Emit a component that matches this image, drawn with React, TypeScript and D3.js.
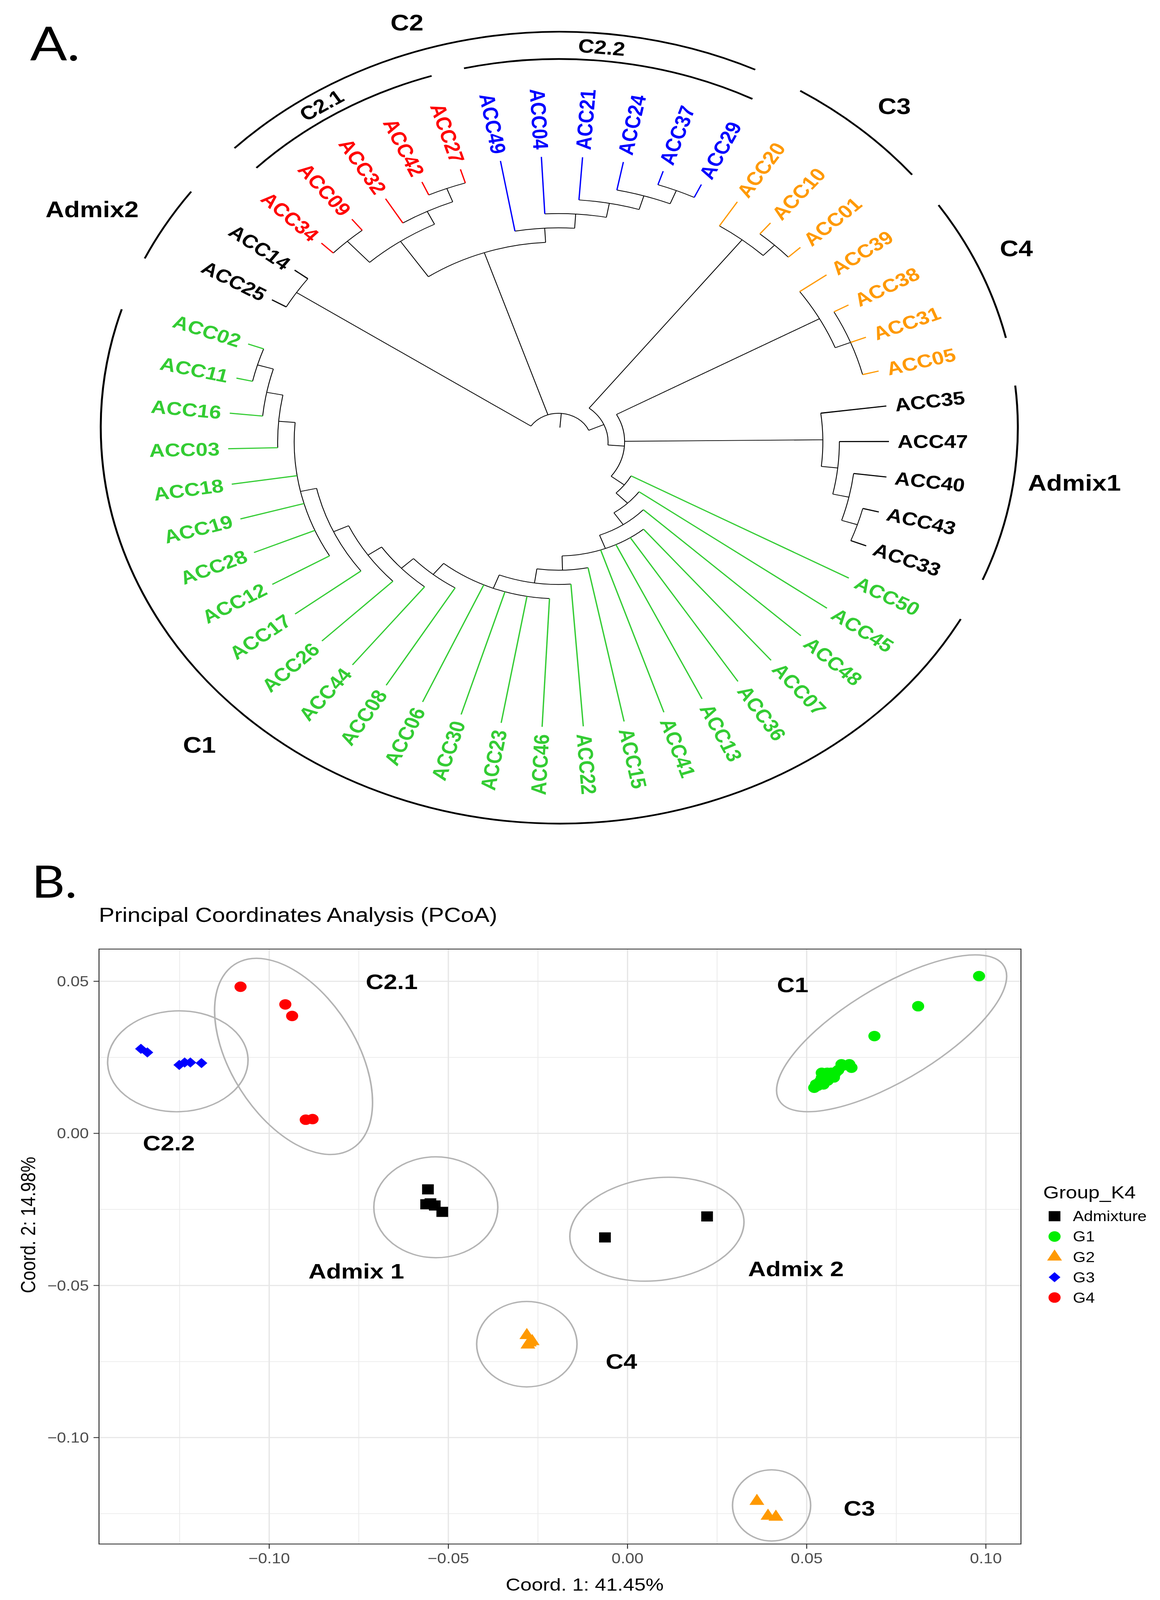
import React from "react";
import * as d3 from "d3";

const W = 2970;
const H = 4744;

// ===================== Panel A data: dendrogram =====================
// Nested clades, leaves listed clockwise
const admix2Clade = ["ACC25", "ACC14"];
const c21Clade = [["ACC34", "ACC09"], ["ACC32", ["ACC42", "ACC27"]]];
const c22Clade = ["ACC49", ["ACC04", ["ACC21", ["ACC24", ["ACC37", "ACC29"]]]]];
const c3Clade = ["ACC20", ["ACC10", "ACC01"]];
const c4Clade = ["ACC39", ["ACC38", "ACC31", "ACC05"]];
const admix1Clade = ["ACC35", ["ACC47", ["ACC40", ["ACC43", "ACC33"]]]];
const c1Clade = ["ACC50", ["ACC45", ["ACC48", ["ACC07", "ACC36", "ACC13", "ACC41", ["ACC15", ["ACC22", ["ACC46", "ACC23", "ACC30", "ACC06", ["ACC08", ["ACC44", ["ACC26", ["ACC17", ["ACC12", "ACC28", "ACC19", "ACC18", ["ACC03", ["ACC16", ["ACC11", "ACC02"]]]]]]]]]]]]]]];
const treeData = [admix2Clade, [c21Clade, c22Clade], [c3Clade, [c4Clade, admix1Clade, c1Clade]]];

const admixtureLeaves = ["ACC25", "ACC14", "ACC35", "ACC47", "ACC40", "ACC43", "ACC33"];
const g4Leaves = ["ACC34", "ACC09", "ACC32", "ACC42", "ACC27"];
const g3Leaves = ["ACC49", "ACC04", "ACC21", "ACC24", "ACC37", "ACC29"];
const g2Leaves = ["ACC20", "ACC10", "ACC01", "ACC39", "ACC38", "ACC31", "ACC05"];

const treeColors: Record<string, string> = {
  Admixture: "#000000",
  G1: "#33cc33",
  G2: "#ff9900",
  G3: "#0000ff",
  G4: "#ff0000",
};

// clade annotation arcs (degrees clockwise from east)
const cladeArcNames = ["C2", "C2.1", "C2.2", "C3", "C4", "Admix1", "C1", "Admix2"];
const cladeArcStart = [224.9, 224.8, 257.1, 301.7, 325.8, 353.9, 28.9, 205.3];
const cladeArcEnd = [295.3, 252.6, 296.9, 320.3, 346.9, 382.6, 197.4, 216.6];
const cladeArcInner = [false, true, true, false, false, false, false, false];
const cladeLabelAngle = [252.0, 237.5, 275.5, 312.0, 335.6, 7.1, 134.4, 208.4];
const cladeLabelRadius = [1262, 1133, 1133, 1282, 1285, 1329, 1317, 1360];
const cladeLabelRotated = [false, true, true, false, false, false, false, false];

// ===================== Panel B data: PCoA =====================
const pcoaGroups = ["Admixture", "G1", "G2", "G3", "G4"];
const admixturePts: [number, number][] = [
  [-0.0557, -0.0184], [-0.0562, -0.0233], [-0.055, -0.023], [-0.0538, -0.0237], [-0.0517, -0.0258],
  [0.0222, -0.0273], [-0.0063, -0.0342],
];
const g1Pts: [number, number][] = [
  [0.0981, 0.0517], [0.0811, 0.0418], [0.0689, 0.032],
  [0.0521, 0.015], [0.0526, 0.0161], [0.0537, 0.017], [0.0542, 0.0199], [0.0547, 0.0187],
  [0.0552, 0.0178], [0.0557, 0.0199], [0.0563, 0.0187], [0.0568, 0.0199], [0.0573, 0.0191],
  [0.0578, 0.0195], [0.0583, 0.0203], [0.0588, 0.0208], [0.0597, 0.0227], [0.0601, 0.0223],
  [0.0619, 0.0227], [0.0625, 0.0216], [0.0547, 0.0161], [0.0531, 0.0157], [0.0559, 0.0174],
  [0.0576, 0.0184], [0.0542, 0.0182],
];
const g2Pts: [number, number][] = [
  [-0.0281, -0.0664], [-0.0266, -0.0684], [-0.0274, -0.0688], [-0.0278, -0.0695],
  [0.0361, -0.1209], [0.0392, -0.1258], [0.0414, -0.1261],
];
const g3Pts: [number, number][] = [
  [-0.1358, 0.0278], [-0.134, 0.0266], [-0.1251, 0.0225], [-0.1236, 0.0233], [-0.122, 0.0233], [-0.1189, 0.0231],
];
const g4Pts: [number, number][] = [
  [-0.108, 0.0482], [-0.0955, 0.0424], [-0.0936, 0.0386], [-0.0898, 0.0045], [-0.0879, 0.0047],
];
const pcoaColors: Record<string, string> = {
  Admixture: "#000000",
  G1: "#00ee00",
  G2: "#ff9900",
  G3: "#0000ff",
  G4: "#ff0000",
};

// ellipses: centre (data), semi-axes (data x-units), rotation (deg)
const ellipseNames = ["C2.2", "C2.1", "Admix 1", "Admix 2", "C4", "C3", "C1"];
const ellipseCx = [-0.1255, -0.0932, -0.0535, 0.0082, -0.0281, 0.0402, 0.0737];
const ellipseCy = [0.0237, 0.0253, -0.0243, -0.0315, -0.0693, -0.1223, 0.0329];
const ellipseRx = [0.0196, 0.0181, 0.0173, 0.0245, 0.014, 0.0109, 0.0382];
const ellipseRy = [0.0163, 0.0341, 0.0163, 0.0165, 0.0138, 0.0115, 0.0146];
const ellipseRot = [-3, -25.8, 0, -10, 0, 0, -35.9];

const clusterLabels = ["C2.1", "C2.2", "C1", "Admix 1", "Admix 2", "C4", "C3"];
const clusterLabelX = [-0.0658, -0.128, 0.0461, -0.0757, 0.047, -0.0017, 0.0647];
const clusterLabelY = [0.0499, -0.0031, 0.0489, -0.0453, -0.0445, -0.075, -0.1232];

const SANS = "'Liberation Sans', Arial, Helvetica, sans-serif";

function leafGroup(name: string) {
  if (admixtureLeaves.includes(name)) return "Admixture";
  if (g4Leaves.includes(name)) return "G4";
  if (g3Leaves.includes(name)) return "G3";
  if (g2Leaves.includes(name)) return "G2";
  return "G1";
}

function PanelA() {
  const CX = 1430;
  const CY = 1310;
  const tipRadius = 846;
  const labelGap = 22;
  const leafStartAngle = 209.85;
  const leafAngleSpan = 350.2;
  const annCX = CX + 2;
  const annCY = CY - 42;
  const outerR = 1174;
  const innerR = 1093;

  const root = d3.hierarchy<any>(treeData, (d: any) => (Array.isArray(d) ? d : null));
  const leaves = root.leaves();
  const angleScale = d3.scaleLinear().domain([0, leaves.length - 1]).range([leafStartAngle, leafStartAngle + leafAngleSpan]);
  const ang = new Map<any, number>();
  leaves.forEach((l, i) => ang.set(l, angleScale(i)));
  root.eachAfter((n) => {
    if (n.children) {
      ang.set(n, (ang.get(n.children[0])! + ang.get(n.children[n.children.length - 1])!) / 2);
    }
  });
  const maxLevel = root.height + 2;
  const rad = d3.scaleLinear().domain([0, maxLevel]).range([0, tipRadius]);
  const level = (n: any) => maxLevel - n.height;
  const toRad = (a: number) => (a * Math.PI) / 180;
  const pt = (r: number, a: number, cx = CX, cy = CY) => [cx + r * Math.cos(toRad(a)), cy + r * Math.sin(toRad(a))];

  const internal: string[] = [];
  const leafEdges: { d: string; color: string }[] = [];
  root.descendants().forEach((n) => {
    const a = ang.get(n)!;
    if (n.parent) {
      const [x1, y1] = pt(rad(level(n.parent)), a);
      const [x2, y2] = pt(rad(level(n)), a);
      const d = `M${x1},${y1}L${x2},${y2}`;
      if (n.children) internal.push(d);
      else leafEdges.push({ d, color: treeColors[leafGroup(n.data)] });
    } else {
      const [x1, y1] = pt(rad(level(n) - 1), a);
      const [x2, y2] = pt(rad(level(n)), a);
      internal.push(`M${x1},${y1}L${x2},${y2}`);
    }
    if (n.children) {
      const a0 = ang.get(n.children[0])!;
      const a1 = ang.get(n.children[n.children.length - 1])!;
      const r = rad(level(n));
      const p = d3.path();
      const [sx, sy] = pt(r, a0);
      p.moveTo(sx, sy);
      p.arc(CX, CY, r, toRad(a0), toRad(a1), false);
      internal.push(p.toString());
    }
  });

  const labels = leaves.map((l) => {
    const a = ((ang.get(l)! % 360) + 360) % 360;
    const flip = a > 90 && a < 270;
    return {
      name: l.data as string,
      color: treeColors[leafGroup(l.data)],
      transform: `translate(${CX},${CY}) rotate(${a}) translate(${tipRadius + labelGap},0)${flip ? " rotate(180)" : ""}`,
      anchor: flip ? "end" : "start",
    };
  });

  const arcs = cladeArcNames.map((name, i) => {
    const r = cladeArcInner[i] ? innerR : outerR;
    const p = d3.path();
    const [sx, sy] = pt(r, cladeArcStart[i], annCX, annCY);
    p.moveTo(sx, sy);
    p.arc(annCX, annCY, r, toRad(cladeArcStart[i]), toRad(cladeArcEnd[i]), false);
    return { name, d: p.toString() };
  });

  return (
    <g>
      <text x={77} y={180} fontFamily="Lato, 'Open Sans', sans-serif" fontSize={140} fill="#000">A.</text>
      <g fill="none" stroke="#000" strokeWidth={2.2}>
        {internal.map((d, i) => (
          <path key={i} d={d} />
        ))}
      </g>
      <g fill="none" strokeWidth={3.4}>
        {leafEdges.map((e, i) => (
          <path key={i} d={e.d} stroke={e.color} />
        ))}
      </g>
      <g fontFamily={SANS} fontWeight="bold" fontSize={55}>
        {labels.map((l) => (
          <text key={l.name} transform={l.transform} textAnchor={l.anchor} dominantBaseline="central" fill={l.color}>
            {l.name}
          </text>
        ))}
      </g>
      <g fill="none" stroke="#000" strokeWidth={5}>
        {arcs.map((a) => (
          <path key={a.name} d={a.d} />
        ))}
      </g>
      <g fontFamily={SANS} fontWeight="bold" fill="#000">
        {cladeArcNames.map((name, i) => {
          const [x, y] = pt(cladeLabelRadius[i], cladeLabelAngle[i], annCX, annCY);
          const rot = cladeLabelRotated[i] ? cladeLabelAngle[i] + 90 : 0;
          return (
            <text
              key={name}
              transform={`translate(${x},${y}) rotate(${rot})`}
              textAnchor="middle"
              dominantBaseline="central"
              fontSize={cladeLabelRotated[i] ? 57 : 66}
            >
              {name}
            </text>
          );
        })}
      </g>
    </g>
  );
}

function symbolPath(group: string) {
  if (group === "Admixture") return "M-15,-15h30v30h-30Z";
  if (group === "G2") return "M0,-22L19,11L-19,11Z";
  if (group === "G3") return "M0,-15L15,0L0,15L-15,0Z";
  return d3.symbol().type(d3.symbolCircle).size(Math.PI * 15.5 * 15.5)()!;
}

function PanelB() {
  const left = 253.5;
  const right = 2614;
  const top = 2814;
  const bottom = 4578;
  const groupPts: Record<string, [number, number][]> = {
    Admixture: admixturePts,
    G1: g1Pts,
    G2: g2Pts,
    G3: g3Pts,
    G4: g4Pts,
  };
  const all = pcoaGroups.flatMap((g) => groupPts[g]);
  const [x0, x1] = d3.extent(all, (d) => d[0]) as [number, number];
  const [y0, y1] = d3.extent(all, (d) => d[1]) as [number, number];
  const ex = (x1 - x0) * 0.05;
  const ey = (y1 - y0) * 0.05;
  const x = d3.scaleLinear().domain([x0 - ex, x1 + ex]).range([left, right]);
  const y = d3.scaleLinear().domain([y0 - ey, y1 + ey]).range([bottom, top]);
  const kx = x(1) - x(0);

  const xMajor = x.ticks(5);
  const yMajor = y.ticks(5);
  const minorOf = (maj: number[], sc: any) => {
    const step = maj[1] - maj[0];
    const [a, b] = sc.domain();
    const out: number[] = [];
    for (let v = maj[0] - step / 2; v <= b + 1e-9; v += step) if (v >= a) out.push(v);
    return out;
  };
  const xMinor = minorOf(xMajor, x);
  const yMinor = minorOf(yMajor, y);
  const fmt = (v: number) => d3.format(".2f")(v).replace("-", "\u2212");

  const legendTop = 3606;
  const legendStep = 60.3;

  return (
    <g fontFamily={SANS}>
      <text x={81} y={2661} fontFamily="Lato, 'Open Sans', sans-serif" fontSize={132} fill="#000">B.</text>
      <text x={253} y={2733} fontSize={60} fill="#000">Principal Coordinates Analysis (PCoA)</text>
      <rect x={left} y={top} width={right - left} height={bottom - top} fill="#fff" />
      <g stroke="#ebebeb" strokeWidth={2}>
        {xMinor.map((v) => (
          <line key={"xm" + v} x1={x(v)} x2={x(v)} y1={top} y2={bottom} />
        ))}
        {yMinor.map((v) => (
          <line key={"ym" + v} y1={y(v)} y2={y(v)} x1={left} x2={right} />
        ))}
      </g>
      <g stroke="#e6e6e6" strokeWidth={3.2}>
        {xMajor.map((v) => (
          <line key={"xM" + v} x1={x(v)} x2={x(v)} y1={top} y2={bottom} />
        ))}
        {yMajor.map((v) => (
          <line key={"yM" + v} y1={y(v)} y2={y(v)} x1={left} x2={right} />
        ))}
      </g>
      <g fill="none" stroke="#b3b3b3" strokeWidth={4}>
        {ellipseNames.map((n, i) => (
          <ellipse
            key={n}
            cx={x(ellipseCx[i])}
            cy={y(ellipseCy[i])}
            rx={ellipseRx[i] * kx}
            ry={ellipseRy[i] * kx}
            transform={`rotate(${ellipseRot[i]} ${x(ellipseCx[i])} ${y(ellipseCy[i])})`}
          />
        ))}
      </g>
      {pcoaGroups.map((g) => (
        <g key={g} fill={pcoaColors[g]}>
          {groupPts[g].map((p, i) => (
            <path key={i} d={symbolPath(g)} transform={`translate(${x(p[0])},${y(p[1])})`} />
          ))}
        </g>
      ))}
      <g fontWeight="bold" fontSize={63} fill="#000" textAnchor="middle">
        {clusterLabels.map((t, i) => (
          <text key={t} x={x(clusterLabelX[i])} y={y(clusterLabelY[i])} dominantBaseline="central">
            {t}
          </text>
        ))}
      </g>
      <rect x={left} y={top} width={right - left} height={bottom - top} fill="none" stroke="#333333" strokeWidth={2.5} />
      <g stroke="#333333" strokeWidth={2.5}>
        {xMajor.map((v) => (
          <line key={"xt" + v} x1={x(v)} x2={x(v)} y1={bottom} y2={bottom + 14} />
        ))}
        {yMajor.map((v) => (
          <line key={"yt" + v} x1={left - 14} x2={left} y1={y(v)} y2={y(v)} />
        ))}
      </g>
      <g fontSize={42} fill="#4d4d4d">
        {xMajor.map((v) => (
          <text key={"xl" + v} x={x(v)} y={bottom + 57} textAnchor="middle">
            {fmt(v)}
          </text>
        ))}
        {yMajor.map((v) => (
          <text key={"yl" + v} x={left - 26} y={y(v)} textAnchor="end" dominantBaseline="central">
            {fmt(v)}
          </text>
        ))}
      </g>
      <text x={1497} y={4716} fontSize={52} textAnchor="middle" fill="#000">Coord. 1: 41.45%</text>
      <text transform={`translate(90,3632) rotate(-90)`} fontSize={52} textAnchor="middle" fill="#000">Coord. 2: 14.98%</text>
      <text x={2671} y={3553} fontSize={52} fill="#000">Group_K4</text>
      {pcoaGroups.map((g, i) => (
        <g key={g} transform={`translate(0,${legendTop + i * legendStep})`}>
          <path d={symbolPath(g)} transform="translate(2700,0)" fill={pcoaColors[g]} />
          <text x={2747} y={0} fontSize={42} dominantBaseline="central" fill="#000">
            {g}
          </text>
        </g>
      ))}
    </g>
  );
}

export default function App() {
  // The figure is laid out on a 2970 x 4744 canvas; it is stretched to fill
  // whatever viewport the page gets so that nothing falls outside it.
  return (
    <svg
      viewBox={`0 0 ${W} ${H}`}
      preserveAspectRatio="none"
      style={{ position: "fixed", left: 0, top: 0, width: "100vw", height: "100vh", display: "block" }}
      xmlns="http://www.w3.org/2000/svg"
    >
      <rect width={W} height={H} fill="#fff" />
      <PanelA />
      <PanelB />
    </svg>
  );
}
